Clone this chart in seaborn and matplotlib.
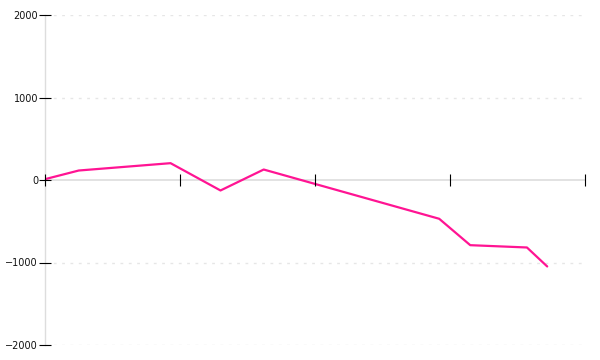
import matplotlib
matplotlib.use("Agg")
import matplotlib.pyplot as plt
import seaborn as sns
import pandas as pd

x_values = [0.0, 2.5, 9.3, 13.0, 16.2, 29.2, 31.5, 35.7, 37.2]
y_values = [10, 115, 204, -127, 127, -470, -790, -818, -1048]
y_ticks = [-2000, -1000, 0, 1000, 2000]
x_ticks = [0, 10, 20, 30, 40]

sns.set_theme(style="white")
plt.rcParams['font.family'] = ['DejaVu Sans']

df = pd.DataFrame({"x": x_values, "y": y_values})

fig = plt.figure(figsize=(6, 3.6), dpi=100)
ax = fig.add_axes([45/600, 15/360, 540/600, 330/360])

sns.lineplot(data=df, x="x", y="y", ax=ax, color="#ff1493", linewidth=1.6, sort=False, zorder=2)

ax.set_xlim(0, 40)
ax.set_ylim(-2000, 2000)
ax.set_yticks(y_ticks)
ax.set_yticklabels([str(v).replace('-', '\u2212') for v in y_ticks])
ax.set_xticks(x_ticks)
ax.set_xticklabels([])
ax.set_xlabel("")
ax.set_ylabel("")

for s in ["top", "right"]:
    ax.spines[s].set_visible(False)
ax.spines["left"].set_color("#dddddd")
ax.spines["left"].set_linewidth(1)
ax.spines["left"].set_zorder(1)
ax.spines["bottom"].set_position(("data", 0))
ax.spines["bottom"].set_color("#dddddd")
ax.spines["bottom"].set_linewidth(1.2)
ax.spines["bottom"].set_zorder(1)
ax.xaxis.set_zorder(4)
ax.yaxis.set_zorder(4)

ax.tick_params(axis="y", direction="inout", length=8, width=0.8, color="black",
               labelsize=7, labelcolor="#111111", pad=1, left=True)
ax.tick_params(axis="x", direction="inout", length=9, width=0.8, color="black",
               bottom=True, pad=0)
for t in ax.xaxis.get_major_ticks():
    t.tick1line.set_clip_on(False)

for v in [-2000, -1000, 1000, 2000]:
    ax.axhline(v, color="#e6e6e6", linewidth=1, linestyle=(0, (2, 4)), zorder=0)

fig.savefig("out.png", dpi=100)
